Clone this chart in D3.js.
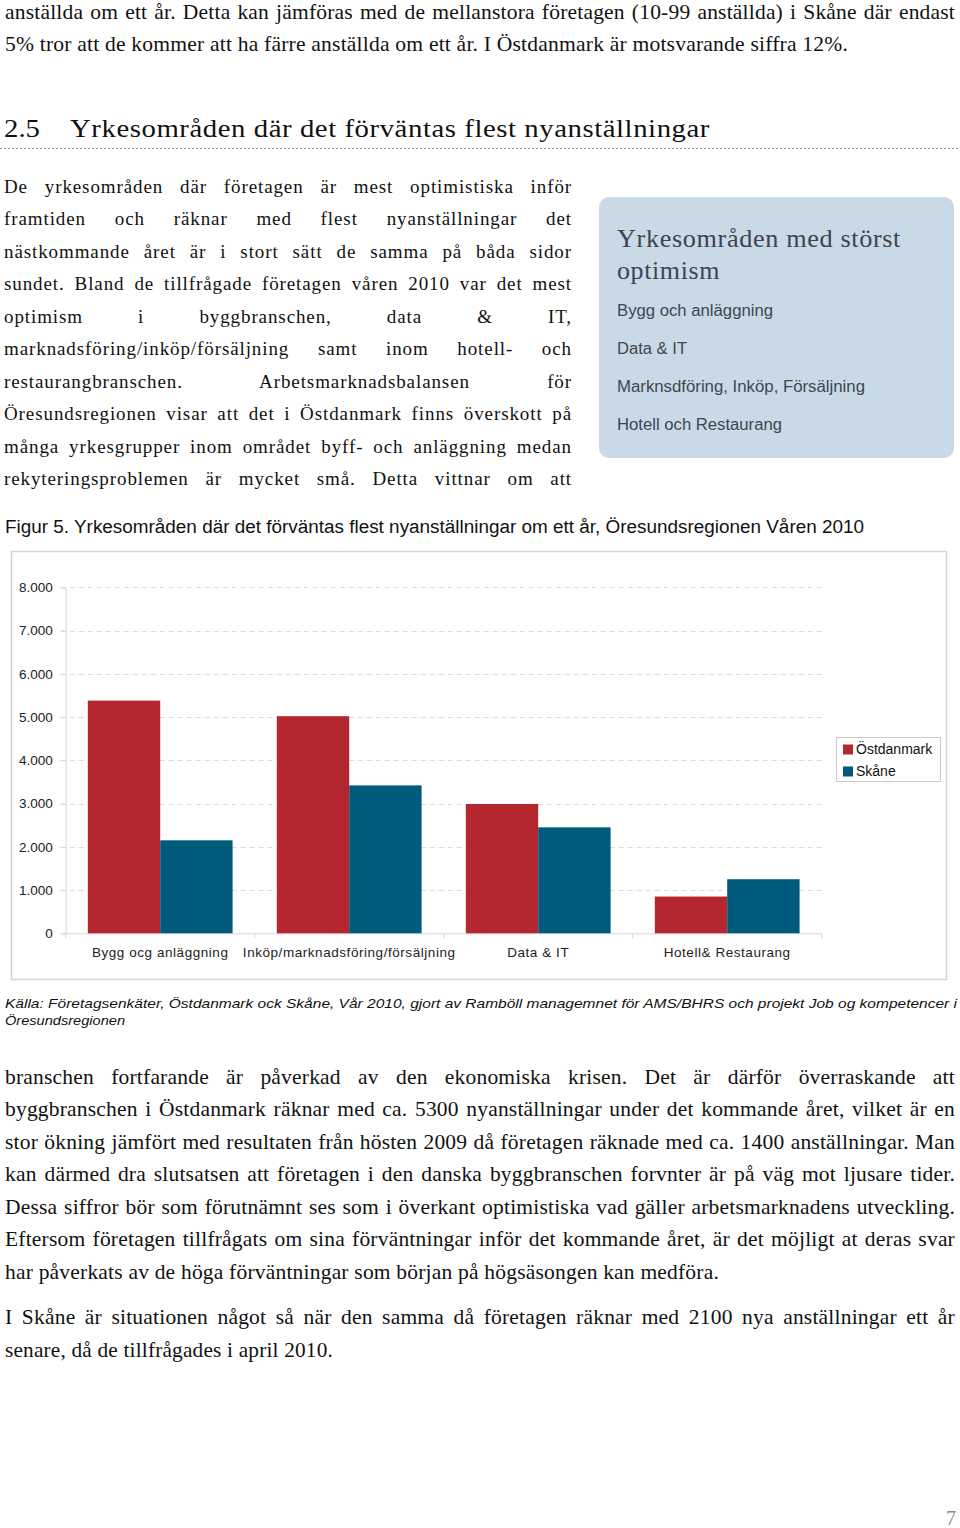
<!DOCTYPE html>
<html>
<head>
<meta charset="utf-8">
<script src="https://cdn.jsdelivr.net/npm/d3@7"></script>
<style>
  html, body { margin: 0; padding: 0; background: #fff; }
  svg { display: block; }
</style>
</head>
<body>
<svg id="page" width="960" height="1528"></svg>
<script>
// ---------------- DATA ----------------
const categories = ["Bygg ocg anläggning", "Inköp/marknadsföring/försäljning", "Data & IT", "Hotell& Restaurang"];
const seriesNames = ["Östdanmark", "Skåne"];
const ostdanmark = [5380, 5020, 2990, 850];
const skane = [2150, 3420, 2450, 1250];
const yTicks = [0, 1000, 2000, 3000, 4000, 5000, 6000, 7000, 8000];
const seriesColors = ["#B4272E", "#005A7B"];

const figureTitle = "Figur 5. Yrkesområden där det förväntas flest nyanställningar om ett år, Öresundsregionen Våren 2010";
const sourceLines = [
  "Källa: Företagsenkäter, Östdanmark ock Skåne, Vår 2010, gjort av Ramböll managemnet för AMS/BHRS och projekt Job og kompetencer i",
  "Öresundsregionen"
];
const topLines = [
  "anställda om ett år. Detta kan jämföras med de mellanstora företagen (10-99 anställda) i Skåne där endast",
  "5% tror att de kommer att ha färre anställda om ett år. I Östdanmark är motsvarande siffra 12%."
];
const headingNum = "2.5";
const headingText = "Yrkesområden där det förväntas flest nyanställningar";
const leftLines = [
  "De yrkesområden där företagen är mest optimistiska inför",
  "framtiden och räknar med flest nyanställningar det",
  "nästkommande året är i stort sätt de samma på båda sidor",
  "sundet. Bland de tillfrågade företagen våren 2010 var det mest",
  "optimism i byggbranschen, data & IT,",
  "marknadsföring/inköp/försäljning samt inom hotell- och",
  "restaurangbranschen. Arbetsmarknadsbalansen för",
  "Öresundsregionen visar att det i Östdanmark finns överskott på",
  "många yrkesgrupper inom området byff- och anläggning medan",
  "rekyteringsproblemen är mycket små. Detta vittnar om att"
];
const boxTitle = ["Yrkesområden med störst", "optimism"];
const boxItems = ["Bygg och anläggning", "Data & IT", "Marknsdföring, Inköp, Försäljning", "Hotell och Restaurang"];
const bottomLines = [
  "branschen fortfarande är påverkad av den ekonomiska krisen. Det är därför överraskande att",
  "byggbranschen i Östdanmark räknar med ca. 5300 nyanställningar under det kommande året, vilket är en",
  "stor ökning jämfört med resultaten från hösten 2009 då företagen räknade med ca. 1400 anställningar. Man",
  "kan därmed dra slutsatsen att företagen i den danska byggbranschen forvnter är på väg mot ljusare tider.",
  "Dessa siffror bör som förutnämnt ses som i överkant optimistiska vad gäller arbetsmarknadens utveckling.",
  "Eftersom företagen tillfrågats om sina förväntningar inför det kommande året, är det möjligt at deras svar",
  "har påverkats av de höga förväntningar som början på högsäsongen kan medföra."
];
const bottomLines2 = [
  "I Skåne är situationen något så när den samma då företagen räknar med 2100 nya anställningar ett år",
  "senare, då de tillfrågades i april 2010."
];
const pageNumber = "7";

// ---------------- HELPERS ----------------
const svg = d3.select("#page");
const SERIF = "'Liberation Serif', 'Times New Roman', serif";
const SANS = "'Liberation Sans', Arial, Helvetica, sans-serif";

function fitLine(sel, target, justify) {
  const node = sel.node();
  const L = node.getComputedTextLength();
  const spaces = (sel.text().match(/ /g) || []).length;
  if (justify && L < target && spaces > 0) {
    sel.attr("word-spacing", ((target - L) / spaces).toFixed(2));
  } else {
    sel.attr("textLength", target).attr("lengthAdjust", "spacingAndGlyphs");
  }
}

function line(txt, x, yCenter, opts) {
  const fs = opts.size;
  const t = svg.append("text")
    .attr("x", x)
    .attr("y", yCenter + fs * 0.34)
    .attr("font-family", opts.family)
    .attr("font-size", fs)
    .attr("fill", opts.color || "#111")
    .attr("font-style", opts.italic ? "italic" : null)
    .attr("letter-spacing", opts.ls || null)
    .text(txt);
  if (opts.width) fitLine(t, opts.width, opts.justify);
  return t;
}

// body text in the full-width parts of the page: a tall, tight serif
const BODY = {family: SERIF, size: 21.5, ls: 0.2};

// ---------------- TOP TEXT ----------------
line(topLines[0], 5, 12, Object.assign({width: 950, justify: true}, BODY));
line(topLines[1], 5, 44, Object.assign({width: 843}, BODY));

// heading
line(headingNum, 4, 128, {family: SERIF, size: 26, width: 36});
line(headingText, 70, 128, {family: SERIF, size: 26, width: 640, ls: 0.5});
svg.append("line")
  .attr("x1", 0).attr("x2", 960).attr("y1", 148.5).attr("y2", 148.5)
  .attr("stroke", "#9a9a9a").attr("stroke-width", 1).attr("stroke-dasharray", "2,2");

// left column
const leftCenters = [187, 219, 252, 284, 317, 349, 382, 414, 447, 479];
leftLines.forEach((s, i) => {
  line(s, 4, leftCenters[i], {family: SERIF, size: 19, width: 568, justify: true, ls: 0.9});
});

// side box
svg.append("rect")
  .attr("x", 599).attr("y", 197).attr("width", 355).attr("height", 261)
  .attr("rx", 10).attr("fill", "#C9D9E6");
line(boxTitle[0], 617, 238, {family: SERIF, size: 25, width: 284, color: "#3b4450", ls: 0.6});
line(boxTitle[1], 617, 270, {family: SERIF, size: 25, width: 103, color: "#3b4450", ls: 0.6});
const boxCenters = [311, 349, 387, 425];
const boxWidths = [156, 70, 248, 165];
boxItems.forEach((s, i) => {
  line(s, 617, boxCenters[i], {family: SANS, size: 16, width: boxWidths[i], color: "#3d4852"});
});

// figure caption
line(figureTitle, 5, 527, {family: SANS, size: 18, width: 859, color: "#111"});

// ---------------- CHART ----------------
svg.append("rect")
  .attr("x", 11.5).attr("y", 551.5).attr("width", 935).attr("height", 428)
  .attr("fill", "#fff").attr("stroke", "#d4d4d4").attr("stroke-width", 1.5);

const plot = {left: 65.7, right: 821.7, top: 587.3, bottom: 933.3};
const y = d3.scaleLinear().domain([0, 8000]).range([plot.bottom, plot.top]);
const x0 = d3.scaleBand().domain(categories).range([plot.left, plot.right])
  .paddingInner(0.234).paddingOuter(0.117);
const x1 = d3.scaleBand().domain(seriesNames).range([0, x0.bandwidth()]);
const xStep = d3.scaleBand().domain(categories).range([plot.left, plot.right]);

const loc = d3.formatLocale({decimal: ",", thousands: ".", grouping: [3], currency: ["", ""]});
const fmt = loc.format(",");

const g = svg.append("g");

// gridlines
g.append("g").selectAll("line")
  .data(yTicks.filter(d => d > 0))
  .join("line")
  .attr("x1", plot.left - 5).attr("x2", plot.right)
  .attr("y1", d => Math.round(y(d)) + 0.5).attr("y2", d => Math.round(y(d)) + 0.5)
  .attr("stroke", "#dcdcdc").attr("stroke-width", 1).attr("stroke-dasharray", "5,4");

// y axis
const yAxis = g.append("g")
  .attr("transform", `translate(${plot.left},0)`)
  .call(d3.axisLeft(y).tickValues(yTicks).tickFormat(fmt).tickSize(5).tickPadding(8));
yAxis.select(".domain").attr("stroke", "#d6d6d6");
yAxis.selectAll(".tick line").attr("stroke", "#d6d6d6");
yAxis.selectAll(".tick text")
  .attr("font-family", SANS).attr("font-size", 13.5).attr("fill", "#222");

// x axis
const xAxis = g.append("g")
  .attr("transform", `translate(0,${plot.bottom})`)
  .call(d3.axisBottom(xStep).tickSize(0).tickPadding(14));
xAxis.select(".domain").attr("stroke", "#d6d6d6");
xAxis.selectAll(".tick text")
  .attr("font-family", SANS).attr("font-size", 13.5).attr("letter-spacing", 0.55).attr("fill", "#222");
// category boundary ticks
const bounds = categories.map(c => xStep(c)).concat([plot.right]);
xAxis.selectAll(".bnd").data(bounds).join("line")
  .attr("class", "bnd")
  .attr("x1", d => d).attr("x2", d => d).attr("y1", 0).attr("y2", 5)
  .attr("stroke", "#d6d6d6");

// bars
const barData = [];
categories.forEach((c, i) => {
  barData.push({cat: c, s: seriesNames[0], v: ostdanmark[i], col: seriesColors[0]});
  barData.push({cat: c, s: seriesNames[1], v: skane[i], col: seriesColors[1]});
});
g.append("g").selectAll("rect")
  .data(barData)
  .join("rect")
  .attr("x", d => x0(d.cat) + x1(d.s))
  .attr("width", x1.bandwidth())
  .attr("y", d => y(d.v))
  .attr("height", d => y(0) - y(d.v))
  .attr("fill", d => d.col);

// legend
const lg = svg.append("g");
lg.append("rect")
  .attr("x", 836.5).attr("y", 737.5).attr("width", 104).attr("height", 44)
  .attr("fill", "#fff").attr("stroke", "#c8c8c8");
seriesNames.forEach((s, i) => {
  const cy = 749 + i * 22;
  lg.append("rect").attr("x", 843).attr("y", cy - 4.5).attr("width", 10).attr("height", 10)
    .attr("fill", seriesColors[i]);
  lg.append("text").attr("x", 856).attr("y", cy + 5)
    .attr("font-family", SANS).attr("font-size", 14).attr("fill", "#111").text(s);
});

// source
line(sourceLines[0], 5, 1003, {family: SANS, size: 13.5, width: 952, italic: true});
line(sourceLines[1], 5, 1020, {family: SANS, size: 13.5, width: 120, italic: true});

// ---------------- BOTTOM TEXT ----------------
const bottomCenters = [1077, 1109, 1142, 1174, 1207, 1239, 1272];
bottomLines.forEach((s, i) => {
  const last = i === bottomLines.length - 1;
  line(s, 5, bottomCenters[i], Object.assign({width: last ? 714 : 950, justify: !last}, BODY));
});
line(bottomLines2[0], 5, 1317, Object.assign({width: 950, justify: true}, BODY));
line(bottomLines2[1], 5, 1350, Object.assign({width: 328}, BODY));

// page number
svg.append("text").attr("x", 946).attr("y", 1525)
  .attr("font-family", SERIF).attr("font-size", 20).attr("fill", "#8a8a8a").text(pageNumber);
</script>
</body>
</html>
